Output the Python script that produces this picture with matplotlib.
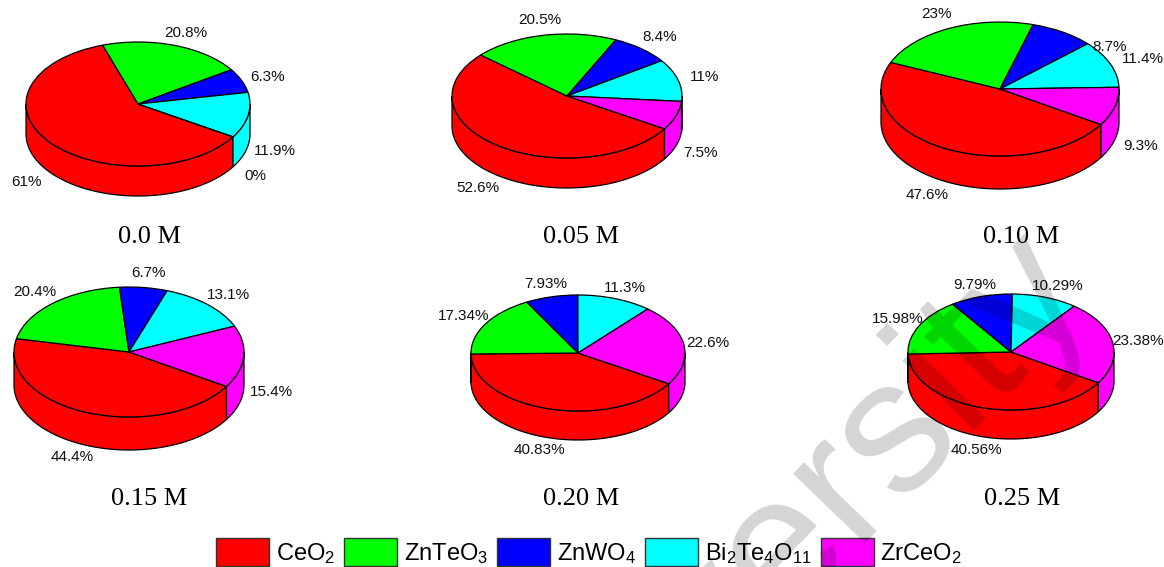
import numpy as np
import matplotlib
matplotlib.use("Agg")
import matplotlib.pyplot as plt
from matplotlib.patches import Patch

plt.rcParams['font.family'] = ['Liberation Sans', 'DejaVu Sans']
plt.rcParams['mathtext.fontset'] = 'custom'
plt.rcParams['mathtext.rm'] = 'Liberation Sans'
plt.rcParams['mathtext.default'] = 'regular'

W, H = 1164, 567

phases = ['CeO$_2$', 'ZnTeO$_3$', 'ZnWO$_4$', 'Bi$_2$Te$_4$O$_{11}$', 'ZrCeO$_2$']
colors = ['#ff0000', '#00ff00', '#0000ff', '#00ffff', '#ff00ff']
conc = ['0.0 M', '0.05 M', '0.10 M', '0.15 M', '0.20 M', '0.25 M']

v00 = [61, 20.8, 6.3, 11.9, 0]
v05 = [52.6, 20.5, 8.4, 11, 7.5]
v10 = [47.6, 23, 8.7, 11.4, 9.3]
v15 = [44.4, 20.4, 6.7, 13.1, 15.4]
v20 = [40.83, 17.34, 7.93, 11.3, 22.6]
v25 = [40.56, 15.98, 9.79, 10.29, 23.38]
values = [v00, v05, v10, v15, v20, v25]

# pie geometry in pixels: cx, cy, rx, ry, depth
pies = [(138, 104, 112, 62, 30), (567, 96, 115, 62, 30), (1000, 89, 119, 67, 33),
        (129, 352, 115, 65, 33), (578, 353, 107, 58, 29), (1011, 352, 103, 58, 29)]
title_pos = [(149, 237), (581, 237), (1021, 237), (149, 499), (581, 499), (1022, 499)]
# label centres in pixels, same order as the values
label_pos = [
    [(26, 182), (186, 33), (268, 77), (275, 151), (255, 176)],
    [(478, 188), (540, 20), (660, 37), (705, 77), (700, 153)],
    [(927, 195), (937, 14), (1110, 47), (1143, 59), (1141, 146)],
    [(72, 457), (35, 292), (149, 273), (228, 295), (271, 392)],
    [(539, 450), (464, 316), (546, 284), (625, 288), (708, 343)],
    [(976, 450), (898, 319), (975, 285), (1058, 286), (1138, 341)],
]
start = -32


def side_wall(ax, vals, d):
    a = start
    for v, c in zip(vals, colors):
        b = a - v * 3.6
        # the front of the drum is -180..0, and again after one full turn
        for lo, hi in ((-180, 0), (-540, -360)):
            t1, t2 = min(a, hi), max(b, lo)
            if t1 > t2:
                t = np.radians(np.linspace(t1, t2, 60))
                x = np.r_[np.cos(t), np.cos(t[::-1])]
                y = np.r_[np.sin(t), np.sin(t[::-1]) - d]
                ax.fill(x, y, facecolor=c, edgecolor='k', lw=0.9, zorder=1, clip_on=False)
        a = b


fig = plt.figure(figsize=(W / 100, H / 100), dpi=100, facecolor='white')

for vals, (cx, cy, rx, ry, dp), lab, name, tp in zip(values, pies, label_pos, conc, title_pos):
    ax = fig.add_axes([(cx - rx) / W, 1 - (cy + ry + dp) / H, 2 * rx / W, (2 * ry + dp) / H])
    d = dp / ry
    side_wall(ax, vals, d)
    wedges, _ = ax.pie(vals, colors=colors, startangle=start, counterclock=False, radius=1,
                       wedgeprops=dict(edgecolor='k', linewidth=0.9), normalize=True)
    for w in wedges:
        w.set_zorder(2)
        w.set_clip_on(False)
    ax.set_aspect('auto')
    ax.set_xlim(-1, 1)
    ax.set_ylim(-1 - d, 1)
    ax.axis('off')
    for v, (lx, ly) in zip(vals, lab):
        fig.text(lx / W, 1 - ly / H, '%g%%' % v, ha='center', va='center', fontsize=11, color='#111111')
    fig.text(tp[0] / W, 1 - tp[1] / H, name, ha='center', va='center', fontsize=19,
             family='Liberation Serif')

handles = [Patch(facecolor=c, edgecolor='#333333', lw=1) for c in colors]
fig.legend(handles, phases, ncol=5, loc='center', bbox_to_anchor=(589 / W, 1 - 552 / H), frameon=False,
           fontsize=17, handlelength=2.25, handleheight=1.4, handletextpad=0.28, columnspacing=0.38,
           borderpad=0, borderaxespad=0)

# grey watermark lying across the lower right
fig.text(1062 / W, 1 - 268 / H, 'versity', rotation=46, rotation_mode='anchor', ha='right', va='center',
         fontsize=136, color='k', alpha=0.17, zorder=10)

fig.savefig('out.png', dpi=100)
